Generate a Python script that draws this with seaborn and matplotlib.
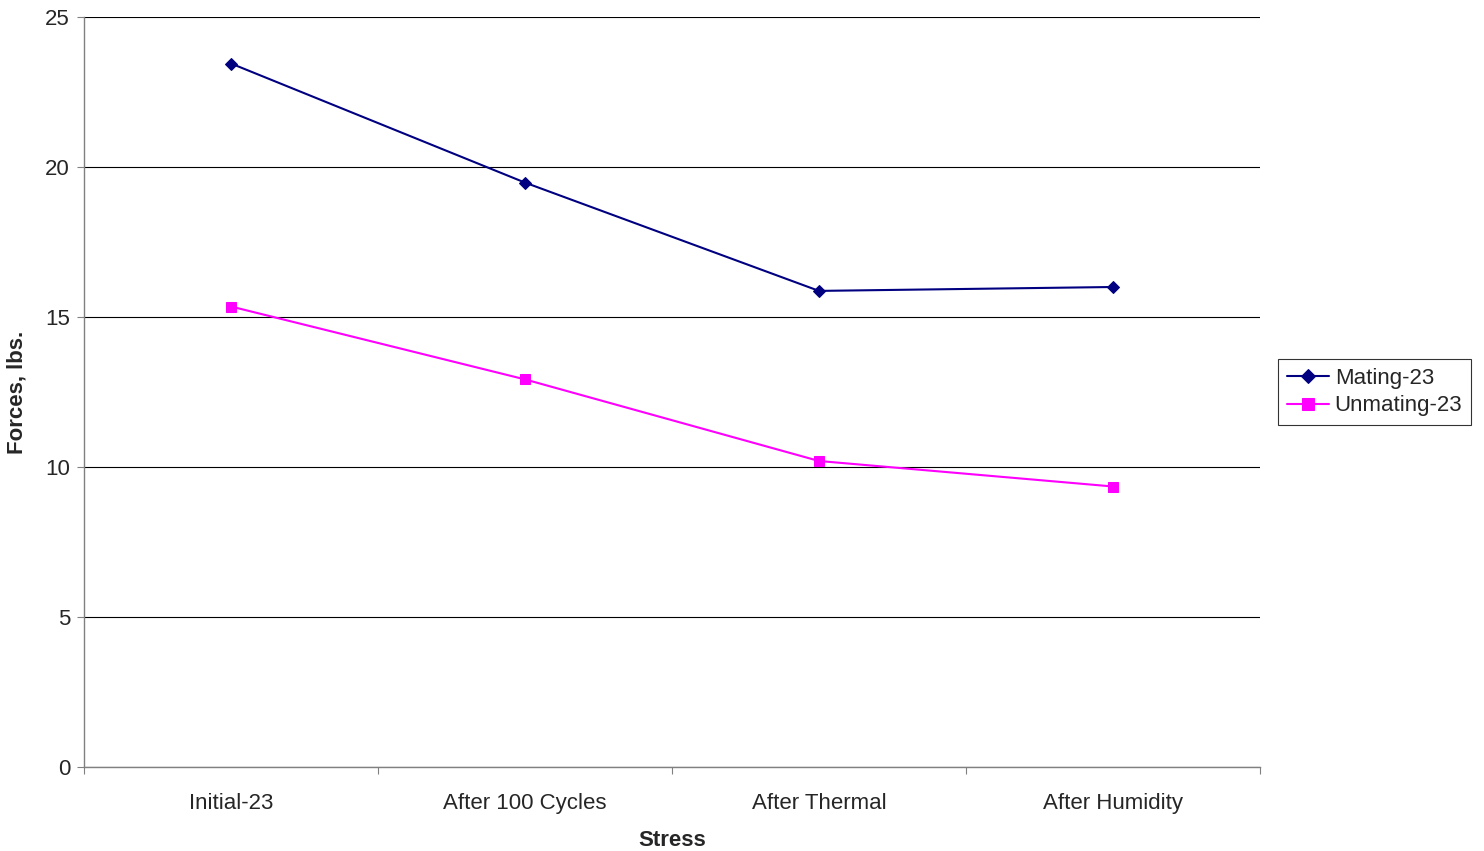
import matplotlib
matplotlib.use("Agg")
import matplotlib.pyplot as plt
from matplotlib.ticker import FixedLocator, NullFormatter, FixedFormatter
import seaborn as sns
import pandas as pd

categories = ["Initial-23", "After 100 Cycles", "After Thermal", "After Humidity"]
mating = [23.45, 19.48, 15.87, 16.0]
unmating = [15.35, 12.92, 10.2, 9.35]
series_names = ["Mating-23", "Unmating-23"]

sns.set_style("white")
plt.rcParams['font.family'] = ['Liberation Sans', 'DejaVu Sans']

FS = 16
W, H = 1484, 851
fig = plt.figure(figsize=(W / 100, H / 100), dpi=100)
ax = fig.add_axes([84 / W, (H - 767) / H, (1260 - 84) / W, (767 - 17) / H])

xs = list(range(len(categories)))
df = pd.DataFrame({
    "x": xs * 2,
    "y": mating + unmating,
    "series": [series_names[0]] * 4 + [series_names[1]] * 4,
})

sns.lineplot(data=df[df.series == series_names[0]], x="x", y="y", ax=ax,
             color="#000080", marker="D", markersize=6.5, linewidth=1.5,
             markeredgecolor="#000080", label=series_names[0])
sns.lineplot(data=df[df.series == series_names[1]], x="x", y="y", ax=ax,
             color="#FF00FF", marker="s", markersize=7.5, linewidth=1.5,
             markeredgecolor="#FF00FF", label=series_names[1])

ax.set_xlim(-0.5, len(categories) - 0.5)
ax.set_ylim(0, 25)
ax.set_yticks([0, 5, 10, 15, 20, 25])
ax.yaxis.grid(True, color="black", linewidth=0.8)
ax.xaxis.grid(False)
ax.set_axisbelow(True)

ax.xaxis.set_major_locator(FixedLocator([i - 0.5 for i in range(len(categories) + 1)]))
ax.xaxis.set_major_formatter(NullFormatter())
ax.xaxis.set_minor_locator(FixedLocator(xs))
ax.xaxis.set_minor_formatter(FixedFormatter(categories))
ax.tick_params(axis="x", which="major", length=5, width=0.8, color="#808080", direction="out")
ax.tick_params(axis="x", which="minor", length=0, labelsize=FS, pad=19)
ax.tick_params(axis="y", length=5, width=0.8, color="#808080", direction="out", labelsize=FS, pad=5)
ax.tick_params(bottom=True, left=True)

for s in ["top", "right"]:
    ax.spines[s].set_visible(False)
for s in ["left", "bottom"]:
    ax.spines[s].set_color("#808080")
    ax.spines[s].set_linewidth(1.0)

ax.set_xlabel("Stress", fontsize=FS, fontweight="bold", labelpad=11)
ax.set_ylabel("Forces, lbs.", fontsize=FS, fontweight="bold")
ax.yaxis.set_label_coords(28 / W, 1 - 392 / H, transform=fig.transFigure)

leg = ax.legend(loc="center left", bbox_to_anchor=(1278 / W, 1 - 392 / H),
                bbox_transform=fig.transFigure, frameon=True, fancybox=False,
                fontsize=FS, handlelength=1.9, handletextpad=0.25,
                borderpad=0.4, labelspacing=0.3, borderaxespad=0,
                markerscale=1.1)
leg.get_frame().set_edgecolor("black")
leg.get_frame().set_linewidth(0.8)

fig.savefig("out.png", dpi=100)
